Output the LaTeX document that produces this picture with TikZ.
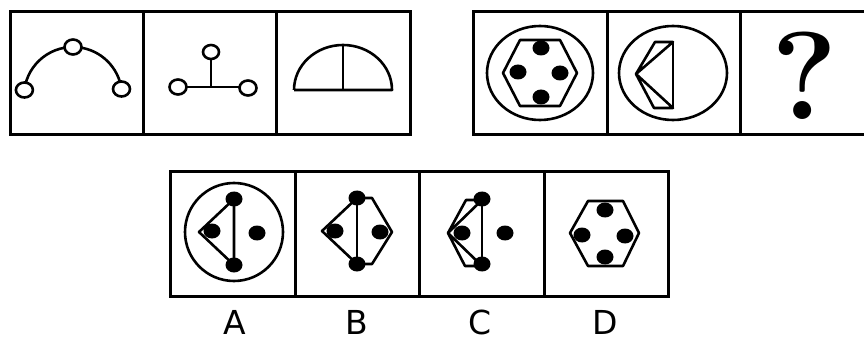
\documentclass[tikz,border=0pt]{standalone}
\usepackage{fontspec}
\newfontfamily\choicefont{DejaVu Sans}
\begin{document}
\begin{tikzpicture}[x=1pt, y=-1pt, line width=2.6pt, line join=round,
    frame/.style={line width=3pt, line join=miter},
    choice/.style={font=\choicefont\fontsize{33}{40}\selectfont, anchor=base, inner sep=0pt}]
  \useasboundingbox (0,0) rectangle (864,339);
  % frames
  \draw[frame] (10,12) rectangle (410,135);
  \draw[frame] (143,12) -- (143,135);
  \draw[frame] (276,12) -- (276,135);
  \draw[frame] (473,12) rectangle (873,135);
  \draw[frame] (607,12) -- (607,135);
  \draw[frame] (740,12) -- (740,135);
  \draw[frame] (170,172) rectangle (668,296);
  \draw[frame] (295,172) -- (295,296);
  \draw[frame] (419,172) -- (419,296);
  \draw[frame] (544,172) -- (544,296);
  % arc with three rings
  \draw (73,96) ++(-173:49) arc[start angle=-173, end angle=-8, radius=49];
  \draw[fill=white] (24.4,90) ellipse (8.5 and 7.5);
  \draw[fill=white] (73,47) ellipse (8.5 and 7.5);
  \draw[fill=white] (121.5,89) ellipse (8.5 and 7.5);
  % T with three rings
  \draw (211,59) -- (211,87);
  \draw (178,87) -- (248,87);
  \draw[fill=white] (211,52) ellipse (8 and 7);
  \draw[fill=white] (178,87) ellipse (8.5 and 7.5);
  \draw[fill=white] (248,88) ellipse (8.5 and 7.5);
  % half disc
  \draw (294,90) -- (392,90) arc[start angle=0, end angle=-180, x radius=49, y radius=45];
  \draw (343,90) -- (343,45);
  % ring, hexagon, four dots
  \draw (540,73) ellipse (53 and 47);
  \draw (503,73) -- (520,40) -- (560,40) -- (577,73) -- (560,106) -- (520,106) -- cycle;
  \fill (541,48) ellipse (8.5 and 7.5);
  \fill (518,72) ellipse (8.5 and 7.5);
  \fill (560,73) ellipse (8.5 and 7.5);
  \fill (541,97) ellipse (8.5 and 7.5);
  % ring with two triangles
  \draw (673,73) ellipse (54 and 47);
  \draw (673,42) -- (673,108);
  \draw (636,74) -- (655,42) -- (673,42) -- cycle;
  \draw (636,74) -- (654,108) -- (673,108) -- cycle;
  % question mark
  \node[font=\bfseries\fontsize{125}{130}\selectfont, anchor=base, inner sep=0pt] (qmark) at (805,120) {?};
  % A
  \draw (234,232) circle (49);
  \draw (199,232) -- (234,199) -- (234,265) -- cycle;
  \fill (234,199) ellipse (8.5 and 7.5);
  \fill (234,265) ellipse (8.5 and 7.5);
  \fill (212,231) ellipse (8.5 and 7.5);
  \fill (257,233) ellipse (8.5 and 7.5);
  % B
  \draw (322,231) -- (357,198) -- (372,198) -- (392,232) -- (372,264) -- (357,264) -- cycle;
  \draw (357,198) -- (357,264);
  \fill (357,198) ellipse (8.5 and 7.5);
  \fill (357,264) ellipse (8.5 and 7.5);
  \fill (335,231) ellipse (8.5 and 7.5);
  \fill (380,232) ellipse (8.5 and 7.5);
  % C
  \draw (482,199) -- (482,265);
  \draw (448,233) -- (466,200) -- (482,200) -- cycle;
  \draw (448,233) -- (465,266) -- (482,266) -- cycle;
  \fill (482,199) ellipse (8.5 and 7.5);
  \fill (482,264) ellipse (8.5 and 7.5);
  \fill (462,233) ellipse (8.5 and 7.5);
  \fill (505,233) ellipse (8.5 and 7.5);
  % D
  \draw (570,233) -- (588,201) -- (623,201) -- (639,233) -- (623,266) -- (588,266) -- cycle;
  \fill (605,210) ellipse (8.5 and 7.5);
  \fill (605,257) ellipse (8.5 and 7.5);
  \fill (582,235) ellipse (8.5 and 7.5);
  \fill (625,236) ellipse (8.5 and 7.5);
  % labels
  \node[choice] (labA) at (235,334) {A};
  \node[choice] (labB) at (357,334) {B};
  \node[choice] (labC) at (480,334) {C};
  \node[choice] (labD) at (605,334) {D};
\end{tikzpicture}
\end{document}
